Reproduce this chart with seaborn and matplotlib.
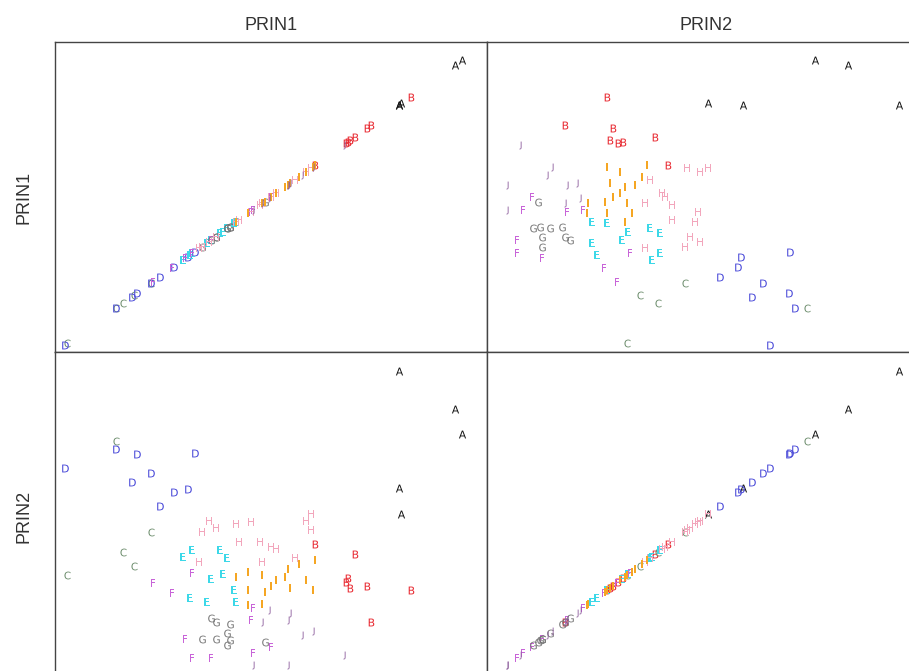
import pandas as pd
import seaborn as sns
import matplotlib.pyplot as plt

# principal component scores, one entry per observation
groups = (["A"] * 5 + ["B"] * 8 + ["C"] * 5 + ["D"] * 9 + ["E"] * 10
          + ["F"] * 10 + ["G"] * 9 + ["H"] * 15 + ["I"] * 16 + ["J"] * 9)

prin1 = [
    4.42, 4.26, 3.02, 2.97, 2.97,                                  # A
    3.24, 2.32, 2.22, 1.84, 1.73, 1.79, 1.95, 1.03,                # B
    -3.16, -3.43, -2.78, -4.72, -3.59,                             # C
    -1.93, -2.25, -1.76, -2.57, -2.78, -3.22, -3.11, -3.59, -4.77, # D
    -1.49, -1.87, -0.85, -1.39, -1.12, -1.01, -1.17, -2.03, -1.82, -0.80,  # E
    0.01, -0.42, -1.39, -1.82, -1.98, -2.30, -2.73, -1.82, -0.47, -0.42,   # F
    -1.01, -0.96, -1.01, -0.96, -1.28, -1.39, -1.28, -1.60, -0.15,         # G
    0.92, 0.82, 0.92, 0.55, 0.12, 0.01, -0.20, -0.26, -0.47, -0.80,
    -0.74, -1.28, -1.44, -1.60, -1.66,                                     # H
    0.98, 0.82, 1.03, 0.44, 0.33, 0.39, 0.65, -0.15, 0.01, 0.12,
    -0.20, -0.20, -0.53, -0.80, -0.53, -0.53,                              # I
    1.68, 0.98, 0.71, 0.39, 0.39, 0.44, -0.42, -0.20, -0.04,               # J
]

prin2 = [
    2.49, 3.25, 0.05, 0.85, 4.41,                                  # A
    -2.27, -3.22, -2.12, -2.19, -2.00, -1.89, -1.16, -0.86,        # B
    -1.51, -1.09, -0.48, -1.81, 2.30,                              # C
    0.81, 0.74, 1.92, 0.32, 1.31, 1.04, 1.90, 2.03, 1.46,          # D
    -2.61, -2.50, -2.27, -1.92, -1.77, -1.28, -1.05, -1.24, -1.05, -2.61,  # E
    -3.98, -4.17, -4.32, -4.32, -3.75, -2.34, -2.04, -1.74, -3.18, -2.80,  # F
    -3.94, -3.79, -3.56, -3.29, -3.22, -3.11, -3.75, -3.75, -3.83,         # G
    -0.44, -0.14, 0.05, -1.28, -1.01, -0.94, -1.39, -0.78, -0.18, -0.25,
    -0.78, -0.37, -0.14, -0.48, -1.39,                                     # H
    -2.27, -1.96, -1.35, -2.19, -1.85, -1.62, -1.47, -2.31, -2.12, -1.96,
    -1.81, -2.69, -2.27, -1.85, -1.70, -2.72,                              # I
    -4.25, -3.52, -3.64, -4.55, -3.18, -2.95, -4.55, -3.22, -2.88,         # J
]

letters = ["A", "B", "C", "D", "E", "F", "G", "H", "I", "J"]
colors = ["#111111", "#e8262e", "#6f8f6f", "#4747d8", "#3cd8e8",
          "#c864d8", "#767676", "#f2a6bc", "#f5a623", "#8a5a9a"]

df = pd.DataFrame({"PRIN1": prin1, "PRIN2": prin2, "grp": groups})

sns.set_theme(style="white")
plt.rcParams["font.family"] = ["Liberation Sans", "DejaVu Sans"]

g = sns.PairGrid(df, vars=["PRIN1", "PRIN2"], hue="grp", hue_order=letters,
                 palette=colors, despine=False, height=3.3, aspect=1.4,
                 hue_kws={"marker": [r"$\mathrm{%s}$" % l for l in letters]})
g.map(plt.scatter, s=32, linewidths=0)
g.figure.set_size_inches(9.09, 6.71)

W, H = 909, 671
cols = [(55, 487), (487, 925)]
rows = [(42, 352), (352, 680)]
names = ["PRIN1", "PRIN2"]
for i in range(2):
    for j in range(2):
        ax = g.axes[i, j]
        x0, x1 = cols[j]
        y0, y1 = rows[i]
        ax.set_position([x0 / W, (H - y1) / H, (x1 - x0) / W, (y1 - y0) / H])
        ax.set_xlim(-5, 5)
        ax.set_ylim(-5, 5)
        ax.set_xticks([])
        ax.set_yticks([])
        ax.set_xlabel("")
        ax.set_ylabel("")
        for sp in ax.spines.values():
            sp.set_color("#444444")
            sp.set_linewidth(1.0)
    g.axes[0, i].set_title(names[i], fontsize=13, color="#333333", pad=9)
    g.axes[i, 0].set_ylabel(names[i], fontsize=13, color="#333333", labelpad=16)

g.figure.savefig("out.png", dpi=100)
